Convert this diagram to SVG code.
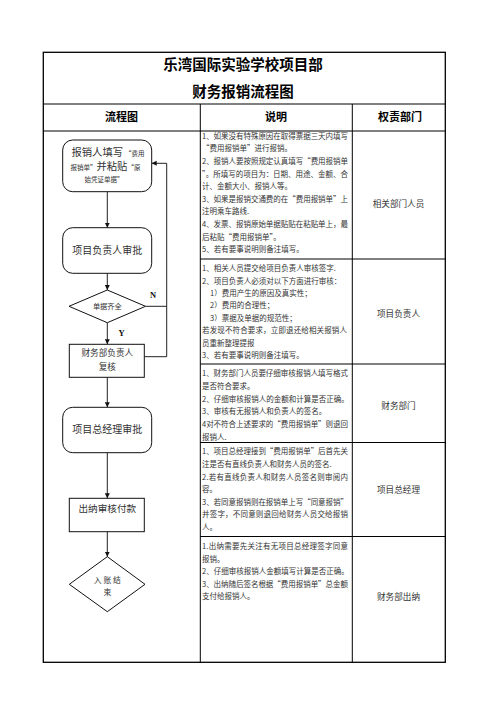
<svg xmlns="http://www.w3.org/2000/svg" width="496" height="702" viewBox="0 0 496 702">
<style>
.bg{fill:#fff}
.tb{fill:none;stroke:#000;stroke-width:1.3}
.tl{stroke:#000;stroke-width:1}
.title{font-family:"Noto Sans CJK SC","Noto Sans",sans-serif;font-size:14.5px;font-weight:bold;fill:#000;text-anchor:middle}
.hd{font-family:"Noto Sans CJK SC","Noto Sans",sans-serif;font-size:11px;font-weight:bold;fill:#000;text-anchor:middle}
.d{font-family:"Noto Sans CJK SC","Noto Sans",sans-serif;font-size:7.5px;fill:#333}
.r{font-family:"Noto Sans CJK SC","Noto Sans",sans-serif;font-size:8.6px;fill:#333;text-anchor:middle}
.box{fill:#fff;stroke:#111;stroke-width:1}
.ft{font-family:"Noto Sans CJK SC","Noto Sans",sans-serif;fill:#333;text-anchor:middle}
.fs{font-family:"Noto Sans CJK SC","Noto Sans",sans-serif;fill:#333}
.yn{font-family:"Liberation Serif",serif;font-size:8.5px;font-weight:bold;fill:#111}
.con{fill:none;stroke:#222;stroke-width:1}
</style>
<defs>
<marker id="ah" markerWidth="6" markerHeight="6" refX="5" refY="3" orient="auto" markerUnits="userSpaceOnUse">
<path d="M0,0.5 L5,3 L0,5.5 Z" fill="#111"/>
</marker>
</defs>
<rect class="bg" x="0" y="0" width="496" height="702"/>

<g id="table">
<rect class="tb" x="43.3" y="52.3" width="402" height="610"/>
<line class="tl" x1="43.3" y1="104" x2="445.3" y2="104"/>
<line class="tl" x1="43.3" y1="131" x2="445.3" y2="131"/>
<line class="tl" x1="200.3" y1="104" x2="200.3" y2="662.3"/>
<line class="tl" x1="352.3" y1="104" x2="352.3" y2="662.3"/>
<line class="tl" x1="200.3" y1="259" x2="445.3" y2="259"/>
<line class="tl" x1="200.3" y1="364" x2="445.3" y2="364"/>
<line class="tl" x1="200.3" y1="442.5" x2="445.3" y2="442.5"/>
<line class="tl" x1="200.3" y1="536.5" x2="445.3" y2="536.5"/>
<text class="title" x="243" y="70">乐湾国际实验学校项目部</text>
<text class="title" x="243" y="97">财务报销流程图</text>
<text class="hd" x="121.5" y="121">流程图</text>
<text class="hd" x="276" y="121">说明</text>
<text class="hd" x="400" y="121">权责部门</text>
</g>

<g id="desc1">
<text class="d" x="202" y="138.7" textLength="146" lengthAdjust="spacing">1、如果没有特殊原因在取得票据三天内填写</text>
<text class="d" x="202" y="151.3">“费用报销单”进行报销。</text>
<text class="d" x="202" y="163.9" textLength="146" lengthAdjust="spacing">2、报销人要按照规定认真填写“费用报销单</text>
<text class="d" x="202" y="176.5" textLength="146" lengthAdjust="spacing">”。所填写的项目为：日期、用途、金额、合</text>
<text class="d" x="202" y="189.1">计、金额大小、报销人等。</text>
<text class="d" x="202" y="201.7" textLength="146" lengthAdjust="spacing">3、如果是报销交通费的在“费用报销单”上</text>
<text class="d" x="202" y="214.3">注明乘车路线.</text>
<text class="d" x="202" y="226.9" textLength="146" lengthAdjust="spacing">4、发票、报销原始单据贴贴在粘贴单上，最</text>
<text class="d" x="202" y="239.5">后粘贴“费用报销单”。</text>
<text class="d" x="202" y="252.1">5、若有要事说明则备注填写。</text>
</g>
<g id="desc2">
<text class="d" x="202" y="271.2">1、相关人员提交给项目负责人审核签字.</text>
<text class="d" x="202" y="283.6">2、项目负责人必须对以下方面进行审核：</text>
<text class="d" x="210" y="296">1）费用产生的原因及真实性；</text>
<text class="d" x="210" y="308.4">2）费用的合理性；</text>
<text class="d" x="210" y="320.8">3）票据及单据的规范性；</text>
<text class="d" x="202" y="333.2" textLength="145" lengthAdjust="spacing">若发现不符合要求，立即退还给相关报销人</text>
<text class="d" x="202" y="345.6">员重新整理提报</text>
<text class="d" x="202" y="358">3、若有要事说明则备注填写。</text>
</g>
<g id="desc3">
<text class="d" x="202" y="375.7" textLength="146" lengthAdjust="spacing">1、财务部门人员要仔细审核报销人填写格式</text>
<text class="d" x="202" y="388.6">是否符合要求。</text>
<text class="d" x="202" y="401.5">2、仔细审核报销人的金额和计算是否正确。</text>
<text class="d" x="202" y="414.4">3、审核有无报销人和负责人的签名。</text>
<text class="d" x="202" y="427.3" textLength="146" lengthAdjust="spacing">4对不符合上述要求的“费用报销单”则退回</text>
<text class="d" x="202" y="440.2">报销人.</text>
</g>
<g id="desc4">
<text class="d" x="202" y="454.4" textLength="146" lengthAdjust="spacing">1、项目总经理接到“费用报销单”后首先关</text>
<text class="d" x="202" y="467">注是否有直线负责人和财务人员的签名.</text>
<text class="d" x="202" y="479.6" textLength="146" lengthAdjust="spacing">2.若有直线负责人和财务人员签名则审阅内</text>
<text class="d" x="202" y="492.2">容。</text>
<text class="d" x="202" y="504.8" textLength="146" lengthAdjust="spacing">3、若同意报销则在报销单上写“同意报销”</text>
<text class="d" x="202" y="517.4" textLength="146" lengthAdjust="spacing">并签字，不同意则退回给财务人员交给报销</text>
<text class="d" x="202" y="530">人。</text>
</g>
<g id="desc5">
<text class="d" x="202" y="549.4" textLength="146" lengthAdjust="spacing">1.出纳需要先关注有无项目总经理签字同意</text>
<text class="d" x="202" y="561.9">报销。</text>
<text class="d" x="202" y="574.4">2、仔细审核报销人金额填写计算是否正确。</text>
<text class="d" x="202" y="586.9" textLength="146" lengthAdjust="spacing">3、出纳随后签名根据“费用报销单”总金额</text>
<text class="d" x="202" y="599.4">支付给报销人。</text>
</g>

<g id="roles">
<text class="r" x="398.5" y="207">相关部门人员</text>
<text class="r" x="398.5" y="317">项目负责人</text>
<text class="r" x="398.5" y="409">财务部门</text>
<text class="r" x="398.5" y="493">项目总经理</text>
<text class="r" x="398.5" y="600">财务部出纳</text>
</g>

<g id="connectors">
<line class="con" x1="107.3" y1="191.7" x2="107.3" y2="227.7" marker-end="url(#ah)"/>
<line class="con" x1="107.3" y1="273.3" x2="107.3" y2="290" marker-end="url(#ah)"/>
<line class="con" x1="107.3" y1="322.7" x2="107.3" y2="344.3" marker-end="url(#ah)"/>
<line class="con" x1="107.3" y1="377.3" x2="107.3" y2="407.3" marker-end="url(#ah)"/>
<line class="con" x1="107.3" y1="452.7" x2="107.3" y2="498.3" marker-end="url(#ah)"/>
<line class="con" x1="107.3" y1="531.7" x2="107.3" y2="556.7" marker-end="url(#ah)"/>
<path class="con" d="M144.3,356.7 H166.7 V163.3 H151.7" marker-end="url(#ah)"/>
<line class="con" x1="145.5" y1="306.3" x2="166.7" y2="306.3"/>
<text class="yn" x="150" y="298">N</text>
<text class="yn" x="118.5" y="336">Y</text>
</g>

<g id="n1">
<rect class="box" x="62.7" y="140" width="89" height="51.7" rx="10" ry="10"/>
<text class="fs" x="71.5" y="155.5"><tspan font-size="10.3">报销人填写</tspan><tspan font-size="6.5" dx="2">“费用</tspan></text>
<text class="fs" x="70.5" y="170"><tspan font-size="6.5">报销单”</tspan><tspan font-size="10.3">并粘贴</tspan><tspan font-size="6.5">“原</tspan></text>
<text class="ft" x="104" y="181.8" font-size="6.5">始凭证单据”</text>
</g>
<g id="n2">
<rect class="box" x="62.7" y="227.7" width="89" height="45.6" rx="10" ry="10"/>
<text class="ft" x="107.2" y="253.6" font-size="10">项目负责人审批</text>
</g>
<g id="n3">
<polygon class="box" points="107.3,290 145.5,306.3 107.3,322.7 69,306.3"/>
<text class="ft" x="107.3" y="308.8" font-size="7.2">单据齐全</text>
</g>
<g id="n4">
<rect class="box" x="69.3" y="344.3" width="75" height="33"/>
<text class="ft" x="107.3" y="356.4" font-size="8.6">财务部负责人</text>
<text class="ft" x="107.3" y="369.8" font-size="8.6">复核</text>
</g>
<g id="n5">
<rect class="box" x="62.7" y="407.3" width="89" height="45.4" rx="10" ry="10"/>
<text class="ft" x="107.2" y="432.9" font-size="10">项目总经理审批</text>
</g>
<g id="n6">
<rect class="box" x="69.3" y="498.3" width="75" height="33.4"/>
<text class="ft" x="107.3" y="511.8" font-size="9.6">出纳审核付款</text>
</g>
<g id="n7">
<polygon class="box" points="107.3,556.7 145,584.3 107.3,611.7 69.3,584.3"/>
<text class="ft" x="107.3" y="582.8" font-size="7.8">入 账 结</text>
<text class="ft" x="107.3" y="594.5" font-size="7.8">束</text>
</g>
</svg>
